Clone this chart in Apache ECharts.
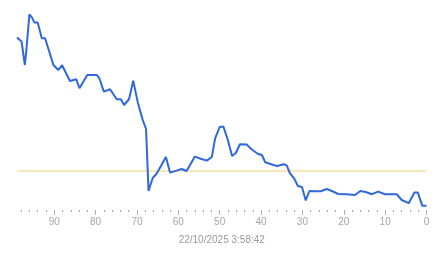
<!DOCTYPE html>
<html>
<head>
<meta charset="utf-8">
<script src="https://cdn.jsdelivr.net/npm/echarts@6/dist/echarts.min.js"></script>
<style>
html,body{margin:0;padding:0;background:#fff;}
#chart{width:443px;height:258px;}
</style>
</head>
<body>
<div id="chart"></div>
<script>
// x positions (units before the timestamp) and series values
const xs = [99.0, 97.9, 97.1, 96.8, 96.0, 95.4, 94.8, 94.0, 93.0, 92.2, 91.8, 90.2, 89.0, 88.1, 86.2, 84.7, 83.9, 82.0, 79.7, 79.1,
            78.0, 76.5, 76.1, 74.9, 73.9, 73.1, 71.9, 70.9, 69.8, 68.6, 67.8, 67.2, 66.2, 65.3, 64.2, 63.0, 62.0, 60.4, 59.2, 58.0,
            56.0, 54.4, 53.1, 51.9, 51.1, 50.0, 49.1, 48.1, 47.0, 46.1, 45.1, 43.5, 42.0, 40.7, 39.8, 39.0, 37.0, 36.1, 34.5, 33.8,
            33.0, 32.0, 31.1, 30.1, 29.2, 28.3, 27.0, 25.6, 24.1, 22.9, 21.3, 19.3, 17.3, 16.0, 14.7, 13.2, 11.7, 10.0, 7.2, 6.0,
            4.3, 2.9, 2.1, 1.0, 0];
const ys = [86.3, 84.3, 72.5, 78.5, 97.8, 96.3, 93.7, 93.7, 85.9, 85.9, 85.0, 72.5, 70.0, 72.4, 64.5, 65.4, 60.9, 67.5, 67.5, 65.9,
            59.2, 60.4, 59.7, 55.4, 55.4, 52.5, 55.5, 64.7, 53.8, 45.0, 40.5, 9.5, 16.0, 18.0, 22.0, 26.5, 18.7, 19.7, 20.5, 19.5,
            26.7, 25.5, 24.7, 26.5, 35.8, 41.5, 41.7, 35.5, 27.0, 28.5, 32.9, 32.7, 29.9, 28.0, 27.5, 23.9, 22.5, 22.0, 22.9, 22.3,
            18.3, 15.8, 12.0, 11.5, 4.8, 9.5, 9.4, 9.4, 10.5, 9.5, 8.0, 7.9, 7.5, 9.5, 9.0, 7.9, 9.2, 7.9, 7.9, 5.0,
            3.4, 8.8, 8.7, 2.1, 2.1];
const thresholdValue = 19.5;
const xRange = [0, 99];
const majorTicks = [0, 10, 20, 30, 40, 50, 60, 70, 80, 90];
const minorTicks = [2, 4, 6, 8, 12, 14, 16, 18, 22, 24, 26, 28, 32, 34, 36, 38, 42, 44, 46, 48,
                    52, 54, 56, 58, 62, 64, 66, 68, 72, 74, 76, 78, 82, 84, 86, 88, 92, 94, 96, 98];
const timestampLabel = '22/10/2025 3:58:42';

const points = xs.map((x, i) => [x, ys[i]]);
const thresholdPoints = xRange.map(x => [x, thresholdValue]);
const chart = echarts.init(document.getElementById('chart'), null, {renderer: 'canvas'});
const font = 'Liberation Sans, Arial, sans-serif';
chart.setOption({
  animation: false,
  backgroundColor: '#ffffff',
  grid: {left: 17, right: 16.5, top: 10, bottom: 48, containLabel: false},
  xAxis: [
    {
      type: 'value', min: xRange[0], max: xRange[1], inverse: true,
      axisLine: {show: false}, splitLine: {show: false},
      axisTick: {show: true, customValues: majorTicks, length: 5, lineStyle: {color: '#b0b0b0', width: 1}},
      axisLabel: {show: true, customValues: majorTicks, color: '#a6a6a6', fontSize: 10, fontFamily: font, margin: 7},
      name: timestampLabel, nameLocation: 'middle', nameGap: 25,
      nameTextStyle: {color: '#9a9a9a', fontSize: 10, fontFamily: font}
    },
    {
      type: 'value', min: xRange[0], max: xRange[1], inverse: true, position: 'bottom', show: true,
      axisLine: {show: false}, splitLine: {show: false},
      axisTick: {show: true, customValues: minorTicks, length: 2, lineStyle: {color: '#a0a0a0', width: 1}},
      axisLabel: {show: false, customValues: minorTicks}
    }
  ],
  yAxis: {type: 'value', min: 0, max: 100, show: false},
  series: [
    {
      type: 'line',
      data: thresholdPoints,
      xAxisIndex: 1,
      showSymbol: false,
      symbol: 'none',
      silent: true,
      lineStyle: {color: '#f0cf6e', width: 1},
      z: 1
    },
    {
      type: 'line',
      data: points,
      xAxisIndex: 0,
      showSymbol: false,
      symbol: 'none',
      lineStyle: {color: '#2f68dc', width: 2},
      itemStyle: {color: '#2f68dc'},
      z: 2
    }
  ]
});
</script>
</body>
</html>
